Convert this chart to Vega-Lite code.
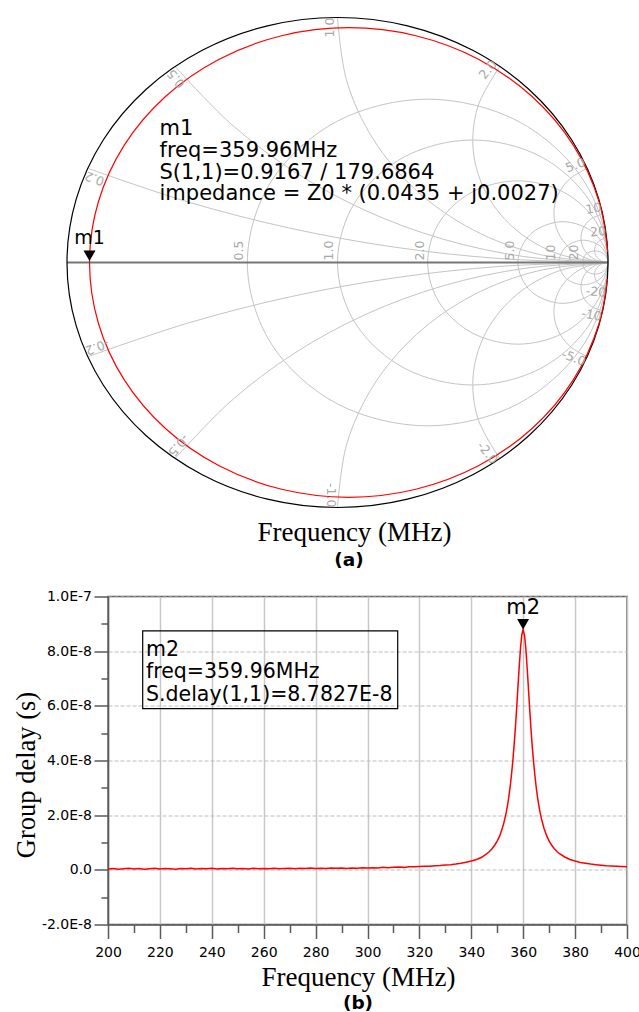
{
 "$schema": "https://vega.github.io/schema/vega-lite/v6.json",
 "background": "white",
 "padding": {"left": 12, "top": 14.5, "right": 0, "bottom": 0},
 "spacing": 19,
 "config": {"view": {"stroke": null}},
 "datasets": {
  "outer": [
   {"i":0,"gx":1,"gy":0},{"i":1,"gx":0.9659,"gy":0.2588},{"i":2,"gx":0.866,"gy":0.5},{"i":3,"gx":0.7071,"gy":0.7071},
   {"i":4,"gx":0.5,"gy":0.866},{"i":5,"gx":0.2588,"gy":0.9659},{"i":6,"gx":0,"gy":1},{"i":7,"gx":-0.2588,"gy":0.9659},
   {"i":8,"gx":-0.5,"gy":0.866},{"i":9,"gx":-0.7071,"gy":0.7071},{"i":10,"gx":-0.866,"gy":0.5},{"i":11,"gx":-0.9659,"gy":0.2588},
   {"i":12,"gx":-1,"gy":0},{"i":13,"gx":-0.9659,"gy":-0.2588},{"i":14,"gx":-0.866,"gy":-0.5},{"i":15,"gx":-0.7071,"gy":-0.7071},
   {"i":16,"gx":-0.5,"gy":-0.866},{"i":17,"gx":-0.2588,"gy":-0.9659},{"i":18,"gx":0,"gy":-1},{"i":19,"gx":0.2588,"gy":-0.9659},
   {"i":20,"gx":0.5,"gy":-0.866},{"i":21,"gx":0.7071,"gy":-0.7071},{"i":22,"gx":0.866,"gy":-0.5},{"i":23,"gx":0.9659,"gy":-0.2588}
  ],
  "rcircles": [
   {"r":"0.5","i":0,"gx":1,"gy":0},{"r":"0.5","i":1,"gx":0.9107,"gy":0.3333},{"r":"0.5","i":2,"gx":0.6667,"gy":0.5774},{"r":"0.5","i":3,"gx":0.3333,"gy":0.6667},
   {"r":"0.5","i":4,"gx":0,"gy":0.5774},{"r":"0.5","i":5,"gx":-0.244,"gy":0.3333},{"r":"0.5","i":6,"gx":-0.3333,"gy":0},{"r":"0.5","i":7,"gx":-0.244,"gy":-0.3333},
   {"r":"0.5","i":8,"gx":0,"gy":-0.5774},{"r":"0.5","i":9,"gx":0.3333,"gy":-0.6667},{"r":"0.5","i":10,"gx":0.6667,"gy":-0.5774},{"r":"0.5","i":11,"gx":0.9107,"gy":-0.3333},
   {"r":"1","i":0,"gx":1,"gy":0},{"r":"1","i":1,"gx":0.933,"gy":0.25},{"r":"1","i":2,"gx":0.75,"gy":0.433},{"r":"1","i":3,"gx":0.5,"gy":0.5},
   {"r":"1","i":4,"gx":0.25,"gy":0.433},{"r":"1","i":5,"gx":0.067,"gy":0.25},{"r":"1","i":6,"gx":0,"gy":0},{"r":"1","i":7,"gx":0.067,"gy":-0.25},
   {"r":"1","i":8,"gx":0.25,"gy":-0.433},{"r":"1","i":9,"gx":0.5,"gy":-0.5},{"r":"1","i":10,"gx":0.75,"gy":-0.433},{"r":"1","i":11,"gx":0.933,"gy":-0.25},
   {"r":"2","i":0,"gx":1,"gy":0},{"r":"2","i":1,"gx":0.9554,"gy":0.1667},{"r":"2","i":2,"gx":0.8333,"gy":0.2887},{"r":"2","i":3,"gx":0.6667,"gy":0.3333},
   {"r":"2","i":4,"gx":0.5,"gy":0.2887},{"r":"2","i":5,"gx":0.378,"gy":0.1667},{"r":"2","i":6,"gx":0.3333,"gy":0},{"r":"2","i":7,"gx":0.378,"gy":-0.1667},
   {"r":"2","i":8,"gx":0.5,"gy":-0.2887},{"r":"2","i":9,"gx":0.6667,"gy":-0.3333},{"r":"2","i":10,"gx":0.8333,"gy":-0.2887},{"r":"2","i":11,"gx":0.9554,"gy":-0.1667},
   {"r":"5","i":0,"gx":1,"gy":0},{"r":"5","i":1,"gx":0.9512,"gy":0.1179},{"r":"5","i":2,"gx":0.8333,"gy":0.1667},{"r":"5","i":3,"gx":0.7155,"gy":0.1179},
   {"r":"5","i":4,"gx":0.6667,"gy":0},{"r":"5","i":5,"gx":0.7155,"gy":-0.1179},{"r":"5","i":6,"gx":0.8333,"gy":-0.1667},{"r":"5","i":7,"gx":0.9512,"gy":-0.1179},
   {"r":"10","i":0,"gx":1,"gy":0},{"r":"10","i":1,"gx":0.9734,"gy":0.0643},{"r":"10","i":2,"gx":0.9091,"gy":0.0909},{"r":"10","i":3,"gx":0.8448,"gy":0.0643},
   {"r":"10","i":4,"gx":0.8182,"gy":0},{"r":"10","i":5,"gx":0.8448,"gy":-0.0643},{"r":"10","i":6,"gx":0.9091,"gy":-0.0909},{"r":"10","i":7,"gx":0.9734,"gy":-0.0643},
   {"r":"20","i":0,"gx":1,"gy":0},{"r":"20","i":1,"gx":0.9861,"gy":0.0337},{"r":"20","i":2,"gx":0.9524,"gy":0.0476},{"r":"20","i":3,"gx":0.9187,"gy":0.0337},
   {"r":"20","i":4,"gx":0.9048,"gy":0},{"r":"20","i":5,"gx":0.9187,"gy":-0.0337},{"r":"20","i":6,"gx":0.9524,"gy":-0.0476},{"r":"20","i":7,"gx":0.9861,"gy":-0.0337}
  ],
  "xarcs": [
   {"xv":0.2,"i":0,"gx":1,"gy":0},{"xv":0.2,"i":1,"gx":0.6056,"gy":0.0156},{"xv":0.2,"i":2,"gx":0.2137,"gy":0.0622},{"xv":0.2,"i":3,"gx":-0.1733,"gy":0.1396},{"xv":0.2,"i":4,"gx":-0.5531,"gy":0.2473},{"xv":0.2,"i":5,"gx":-0.9231,"gy":0.3846},
   {"xv":0.5,"i":0,"gx":1,"gy":0},{"xv":0.5,"i":1,"gx":0.6921,"gy":0.0238},{"xv":0.5,"i":2,"gx":0.3916,"gy":0.0948},{"xv":0.5,"i":3,"gx":0.1056,"gy":0.2111},{"xv":0.5,"i":4,"gx":-0.1591,"gy":0.3702},{"xv":0.5,"i":5,"gx":-0.3962,"gy":0.568},{"xv":0.5,"i":6,"gx":-0.6,"gy":0.8},
   {"xv":1,"i":0,"gx":1,"gy":0},{"xv":1,"i":1,"gx":0.7412,"gy":0.0341},{"xv":1,"i":2,"gx":0.5,"gy":0.134},{"xv":1,"i":3,"gx":0.2929,"gy":0.2929},{"xv":1,"i":4,"gx":0.134,"gy":0.5},{"xv":1,"i":5,"gx":0.0341,"gy":0.7412},{"xv":1,"i":6,"gx":0,"gy":1},
   {"xv":2,"i":0,"gx":1,"gy":0},{"xv":2,"i":1,"gx":0.8196,"gy":0.0337},{"xv":2,"i":2,"gx":0.6636,"gy":0.1301},{"xv":2,"i":3,"gx":0.5528,"gy":0.2764},{"xv":2,"i":4,"gx":0.5022,"gy":0.4528},{"xv":2,"i":5,"gx":0.5187,"gy":0.6355},{"xv":2,"i":6,"gx":0.6,"gy":0.8},
   {"xv":5,"i":0,"gx":1,"gy":0},{"xv":5,"i":1,"gx":0.9235,"gy":0.0152},{"xv":5,"i":2,"gx":0.8587,"gy":0.0585},{"xv":5,"i":3,"gx":0.8153,"gy":0.1233},{"xv":5,"i":4,"gx":0.8,"gy":0.1998},{"xv":5,"i":5,"gx":0.8151,"gy":0.2763},{"xv":5,"i":6,"gx":0.8583,"gy":0.3412},{"xv":5,"i":7,"gx":0.9231,"gy":0.3846},
   {"xv":10,"i":0,"gx":1,"gy":0},{"xv":10,"i":1,"gx":0.9529,"gy":0.0118},{"xv":10,"i":2,"gx":0.9169,"gy":0.0444},{"xv":10,"i":3,"gx":0.9005,"gy":0.09},{"xv":10,"i":4,"gx":0.9075,"gy":0.1381},{"xv":10,"i":5,"gx":0.9364,"gy":0.1771},{"xv":10,"i":6,"gx":0.9802,"gy":0.198},
   {"xv":20,"i":0,"gx":1,"gy":0},{"xv":20,"i":1,"gx":0.9757,"gy":0.0063},{"xv":20,"i":2,"gx":0.9576,"gy":0.0236},{"xv":20,"i":3,"gx":0.9501,"gy":0.0475},{"xv":20,"i":4,"gx":0.9551,"gy":0.0721},{"xv":20,"i":5,"gx":0.9715,"gy":0.0911},{"xv":20,"i":6,"gx":0.995,"gy":0.0998},
   {"xv":-0.2,"i":0,"gx":1,"gy":0},{"xv":-0.2,"i":1,"gx":0.6056,"gy":-0.0156},{"xv":-0.2,"i":2,"gx":0.2137,"gy":-0.0622},{"xv":-0.2,"i":3,"gx":-0.1733,"gy":-0.1396},{"xv":-0.2,"i":4,"gx":-0.5531,"gy":-0.2473},{"xv":-0.2,"i":5,"gx":-0.9231,"gy":-0.3846},
   {"xv":-0.5,"i":0,"gx":1,"gy":0},{"xv":-0.5,"i":1,"gx":0.6921,"gy":-0.0238},{"xv":-0.5,"i":2,"gx":0.3916,"gy":-0.0948},{"xv":-0.5,"i":3,"gx":0.1056,"gy":-0.2111},{"xv":-0.5,"i":4,"gx":-0.1591,"gy":-0.3702},{"xv":-0.5,"i":5,"gx":-0.3962,"gy":-0.568},{"xv":-0.5,"i":6,"gx":-0.6,"gy":-0.8},
   {"xv":-1,"i":0,"gx":1,"gy":0},{"xv":-1,"i":1,"gx":0.7412,"gy":-0.0341},{"xv":-1,"i":2,"gx":0.5,"gy":-0.134},{"xv":-1,"i":3,"gx":0.2929,"gy":-0.2929},{"xv":-1,"i":4,"gx":0.134,"gy":-0.5},{"xv":-1,"i":5,"gx":0.0341,"gy":-0.7412},{"xv":-1,"i":6,"gx":0,"gy":-1},
   {"xv":-2,"i":0,"gx":1,"gy":0},{"xv":-2,"i":1,"gx":0.8196,"gy":-0.0337},{"xv":-2,"i":2,"gx":0.6636,"gy":-0.1301},{"xv":-2,"i":3,"gx":0.5528,"gy":-0.2764},{"xv":-2,"i":4,"gx":0.5022,"gy":-0.4528},{"xv":-2,"i":5,"gx":0.5187,"gy":-0.6355},{"xv":-2,"i":6,"gx":0.6,"gy":-0.8},
   {"xv":-5,"i":0,"gx":1,"gy":0},{"xv":-5,"i":1,"gx":0.9235,"gy":-0.0152},{"xv":-5,"i":2,"gx":0.8587,"gy":-0.0585},{"xv":-5,"i":3,"gx":0.8153,"gy":-0.1233},{"xv":-5,"i":4,"gx":0.8,"gy":-0.1998},{"xv":-5,"i":5,"gx":0.8151,"gy":-0.2763},{"xv":-5,"i":6,"gx":0.8583,"gy":-0.3412},{"xv":-5,"i":7,"gx":0.9231,"gy":-0.3846},
   {"xv":-10,"i":0,"gx":1,"gy":0},{"xv":-10,"i":1,"gx":0.9529,"gy":-0.0118},{"xv":-10,"i":2,"gx":0.9169,"gy":-0.0444},{"xv":-10,"i":3,"gx":0.9005,"gy":-0.09},{"xv":-10,"i":4,"gx":0.9075,"gy":-0.1381},{"xv":-10,"i":5,"gx":0.9364,"gy":-0.1771},{"xv":-10,"i":6,"gx":0.9802,"gy":-0.198},
   {"xv":-20,"i":0,"gx":1,"gy":0},{"xv":-20,"i":1,"gx":0.9757,"gy":-0.0063},{"xv":-20,"i":2,"gx":0.9576,"gy":-0.0236},{"xv":-20,"i":3,"gx":0.9501,"gy":-0.0475},{"xv":-20,"i":4,"gx":0.9551,"gy":-0.0721},{"xv":-20,"i":5,"gx":0.9715,"gy":-0.0911},{"xv":-20,"i":6,"gx":0.995,"gy":-0.0998}
  ],
  "realaxis": [{"i":0,"gx":-1,"gy":0},{"i":1,"gx":1,"gy":0}],
  "s11": [
   {"i":0,"gx":0.9991,"gy":0.0418},{"i":1,"gx":0.9673,"gy":0.248},{"i":2,"gx":0.8716,"gy":0.4792},{"i":3,"gx":0.7193,"gy":0.6776},
   {"i":4,"gx":0.5209,"gy":0.8299},{"i":5,"gx":0.2897,"gy":0.9256},{"i":6,"gx":0.0417,"gy":0.9583},{"i":7,"gx":-0.2063,"gy":0.9256},
   {"i":8,"gx":-0.4375,"gy":0.8299},{"i":9,"gx":-0.6359,"gy":0.6776},{"i":10,"gx":-0.7882,"gy":0.4792},{"i":11,"gx":-0.8839,"gy":0.248},
   {"i":12,"gx":-0.9167,"gy":0.005},{"i":13,"gx":-0.8839,"gy":-0.248},{"i":14,"gx":-0.7882,"gy":-0.4792},{"i":15,"gx":-0.6359,"gy":-0.6776},
   {"i":16,"gx":-0.4375,"gy":-0.8299},{"i":17,"gx":-0.2063,"gy":-0.9256},{"i":18,"gx":0.0417,"gy":-0.9583},{"i":19,"gx":0.2897,"gy":-0.9256},
   {"i":20,"gx":0.5209,"gy":-0.8299},{"i":21,"gx":0.7193,"gy":-0.6776},{"i":22,"gx":0.8716,"gy":-0.4792},{"i":23,"gx":0.9673,"gy":-0.248},
   {"i":24,"gx":0.9977,"gy":-0.0669}
  ],
  "rlabels": [
   {"label":"0.5","gx":-0.3333,"gy":0},{"label":"1.0","gx":0,"gy":0},{"label":"2.0","gx":0.3333,"gy":0},
   {"label":"5.0","gx":0.6667,"gy":0},{"label":"10","gx":0.8182,"gy":0},{"label":"20","gx":0.9048,"gy":0}
  ],
  "xlabels": [
   {"label":"0.2","xv":0.2,"gx":-0.9231,"gy":0.3846},{"label":"0.5","xv":0.5,"gx":-0.6,"gy":0.8},{"label":"1.0","xv":1,"gx":0,"gy":1},
   {"label":"2.0","xv":2,"gx":0.6,"gy":0.8},{"label":"5.0","xv":5,"gx":0.9231,"gy":0.3846},{"label":"10","xv":10,"gx":0.9802,"gy":0.198},
   {"label":"20","xv":20,"gx":0.995,"gy":0.0998},
   {"label":"-0.2","xv":-0.2,"gx":-0.9231,"gy":-0.3846},{"label":"-0.5","xv":-0.5,"gx":-0.6,"gy":-0.8},{"label":"-1.0","xv":-1,"gx":0,"gy":-1},
   {"label":"-2.0","xv":-2,"gx":0.6,"gy":-0.8},{"label":"-5.0","xv":-5,"gx":0.9231,"gy":-0.3846},{"label":"-10","xv":-10,"gx":0.9802,"gy":-0.198},
   {"label":"-20","xv":-20,"gx":0.995,"gy":-0.0998}
  ],
  "m1": [{"name":"m1","gx":-0.9167,"gy":0.005}],
  "m1info": [{"gx":-0.658,"gy":0.5184,"lines":["m1","freq=359.96MHz","S(1,1)=0.9167 / 179.6864","impedance = Z0 * (0.0435 + j0.0027)"]}],
  "delay": [
   {"f":200,"tau":3e-10},{"f":202,"tau":5e-10},{"f":204,"tau":2e-10},{"f":206,"tau":4e-10},{"f":208,"tau":6e-10},
   {"f":210,"tau":3e-10},{"f":212,"tau":5e-10},{"f":214,"tau":2e-10},{"f":216,"tau":4e-10},{"f":218,"tau":6e-10},
   {"f":220,"tau":3e-10},{"f":222,"tau":5e-10},{"f":224,"tau":4e-10},{"f":226,"tau":2e-10},{"f":228,"tau":5e-10},
   {"f":230,"tau":4e-10},{"f":232,"tau":6e-10},{"f":234,"tau":3e-10},{"f":236,"tau":5e-10},{"f":238,"tau":4e-10},
   {"f":240,"tau":6e-10},{"f":242,"tau":3e-10},{"f":244,"tau":5e-10},{"f":246,"tau":4e-10},{"f":248,"tau":6e-10},
   {"f":250,"tau":4e-10},{"f":252,"tau":5e-10},{"f":254,"tau":3e-10},{"f":256,"tau":6e-10},{"f":258,"tau":4e-10},
   {"f":260,"tau":5e-10},{"f":262,"tau":4e-10},{"f":264,"tau":6e-10},{"f":266,"tau":4e-10},{"f":268,"tau":5e-10},
   {"f":270,"tau":6e-10},{"f":272,"tau":4e-10},{"f":274,"tau":6e-10},{"f":276,"tau":5e-10},{"f":278,"tau":7e-10},
   {"f":280,"tau":5e-10},{"f":282,"tau":6e-10},{"f":284,"tau":5e-10},{"f":286,"tau":7e-10},{"f":288,"tau":6e-10},
   {"f":290,"tau":7e-10},{"f":292,"tau":5e-10},{"f":294,"tau":7e-10},{"f":296,"tau":6e-10},{"f":298,"tau":8e-10},
   {"f":300,"tau":7e-10},{"f":302,"tau":8e-10},{"f":304,"tau":7e-10},{"f":306,"tau":9e-10},{"f":308,"tau":8e-10},
   {"f":310,"tau":9e-10},{"f":312,"tau":1.0e-9},{"f":314,"tau":9e-10},{"f":316,"tau":1.1e-9},{"f":318,"tau":1.1e-9},
   {"f":320,"tau":1.2e-9},{"f":322,"tau":1.3e-9},{"f":324,"tau":1.3e-9},{"f":326,"tau":1.5e-9},{"f":328,"tau":1.6e-9},
   {"f":330,"tau":1.8e-9},{"f":332,"tau":1.9e-9},{"f":334,"tau":2.1e-9},{"f":336,"tau":2.4e-9},{"f":338,"tau":2.8e-9},
   {"f":340,"tau":3.2e-9},{"f":342,"tau":3.8e-9},{"f":344,"tau":4.6e-9},{"f":346,"tau":5.9e-9},{"f":347,"tau":6.7e-9},
   {"f":348,"tau":7.7e-9},{"f":349,"tau":9.0e-9},{"f":350,"tau":1.06e-8},{"f":351,"tau":1.25e-8},{"f":352,"tau":1.54e-8},
   {"f":352.5,"tau":1.70e-8},{"f":353,"tau":1.90e-8},{"f":353.5,"tau":2.12e-8},{"f":354,"tau":2.39e-8},{"f":354.5,"tau":2.70e-8},
   {"f":355,"tau":3.06e-8},{"f":355.5,"tau":3.49e-8},{"f":356,"tau":3.99e-8},{"f":356.5,"tau":4.57e-8},{"f":357,"tau":5.21e-8},
   {"f":357.5,"tau":5.95e-8},{"f":358,"tau":6.73e-8},{"f":358.5,"tau":7.49e-8},{"f":359,"tau":8.16e-8},{"f":359.5,"tau":8.62e-8},
   {"f":359.96,"tau":8.7827e-8},{"f":360.5,"tau":8.59e-8},{"f":361,"tau":8.11e-8},{"f":361.5,"tau":7.43e-8},{"f":362,"tau":6.66e-8},
   {"f":362.5,"tau":5.88e-8},{"f":363,"tau":5.15e-8},{"f":363.5,"tau":4.49e-8},{"f":364,"tau":3.95e-8},{"f":364.5,"tau":3.46e-8},
   {"f":365,"tau":3.03e-8},{"f":365.5,"tau":2.67e-8},{"f":366,"tau":2.37e-8},{"f":366.5,"tau":2.10e-8},{"f":367,"tau":1.88e-8},
   {"f":368,"tau":1.52e-8},{"f":369,"tau":1.26e-8},{"f":370,"tau":1.05e-8},{"f":371,"tau":9.0e-9},{"f":372,"tau":7.7e-9},
   {"f":373,"tau":6.7e-9},{"f":374,"tau":5.9e-9},{"f":376,"tau":4.7e-9},{"f":378,"tau":3.8e-9},{"f":380,"tau":3.2e-9},
   {"f":382,"tau":2.7e-9},{"f":384,"tau":2.4e-9},{"f":386,"tau":2.1e-9},{"f":388,"tau":1.9e-9},{"f":390,"tau":1.7e-9},
   {"f":392,"tau":1.5e-9},{"f":394,"tau":1.4e-9},{"f":396,"tau":1.3e-9},{"f":398,"tau":1.2e-9},{"f":400,"tau":1.1e-9}
  ],
  "m2": [{"name":"m2","f":359.96,"tau":8.7827e-8}],
  "m2box": [{"f":213.37,"f2":311.64,"tau":8.746e-8,"tau2":5.895e-8}],
  "m2info": [{"f":214.64,"tau":7.832e-8,"lines":["m2","freq=359.96MHz","S.delay(1,1)=8.7827E-8"]}]
 },
 "vconcat": [
  {
   "width": 500, "height": 490,
   "view": {"stroke": null},
   "title": {"text": "(a)", "orient": "bottom", "anchor": "middle", "frame": "group", "dx": -9, "offset": 5, "font": "DejaVu Sans", "fontSize": 18.5, "fontWeight": "bold", "color": "black", "baseline": "top"},
   "encoding": {
    "x": {"field": "gx", "type": "quantitative", "scale": {"domain": [-0.8484, 1], "nice": false, "zero": false},
      "axis": {"title": "Frequency (MHz)", "labels": false, "ticks": false, "domain": false, "grid": false,
        "titleFont": "Liberation Serif", "titleFontSize": 27, "titleFontWeight": "normal", "titleColor": "black",
        "titleX": 246, "titleY": 33, "titleBaseline": "alphabetic"}},
    "y": {"field": "gy", "type": "quantitative", "scale": {"domain": [-1, 1], "nice": false, "zero": false}, "axis": null}
   },
   "layer": [
    {"data": {"name": "rcircles"}, "mark": {"type": "line", "interpolate": "cardinal-closed", "tension": 0, "color": "#c4c4c4", "strokeWidth": 1},
     "encoding": {"detail": {"field": "r", "type": "nominal"}, "order": {"field": "i", "type": "quantitative"}}},
    {"data": {"name": "xarcs"}, "mark": {"type": "line", "interpolate": "catmull-rom", "color": "#c4c4c4", "strokeWidth": 1},
     "encoding": {"detail": {"field": "xv", "type": "nominal"}, "order": {"field": "i", "type": "quantitative"}}},
    {"data": {"name": "realaxis"}, "mark": {"type": "line", "color": "#767676", "strokeWidth": 2},
     "encoding": {"order": {"field": "i", "type": "quantitative"}}},
    {"data": {"name": "outer"}, "mark": {"type": "line", "interpolate": "cardinal-closed", "tension": 0, "color": "black", "strokeWidth": 1.2},
     "encoding": {"order": {"field": "i", "type": "quantitative"}}},
    {"data": {"name": "s11"}, "mark": {"type": "line", "interpolate": "catmull-rom", "color": "#ff0000", "strokeWidth": 1.2},
     "encoding": {"order": {"field": "i", "type": "quantitative"}}},
    {"data": {"name": "rlabels"}, "mark": {"type": "text", "angle": 270, "align": "left", "baseline": "bottom", "dx": 2, "dy": -1, "font": "DejaVu Sans", "fontSize": 12.5, "color": "#a8a8a8"},
     "encoding": {"text": {"field": "label", "type": "nominal"}}},
    {"data": {"name": "xlabels"}, "transform": [{"filter": "datum.xv > 0"}],
     "mark": {"type": "text", "align": "right", "baseline": "bottom", "font": "DejaVu Sans", "fontSize": 12.5, "color": "#a8a8a8"},
     "encoding": {"text": {"field": "label", "type": "nominal"},
       "angle": {"condition": [
         {"test": "datum.xv == 0.2", "value": 200.7}, {"test": "datum.xv == 0.5", "value": 230.4},
         {"test": "datum.xv == 1", "value": 270}, {"test": "datum.xv == 2", "value": 309.6},
         {"test": "datum.xv == 5", "value": 339.3}, {"test": "datum.xv == 10", "value": 349.6}], "value": 354.8}}},
    {"data": {"name": "xlabels"}, "transform": [{"filter": "datum.xv < 0"}],
     "mark": {"type": "text", "align": "right", "baseline": "top", "font": "DejaVu Sans", "fontSize": 12.5, "color": "#a8a8a8"},
     "encoding": {"text": {"field": "label", "type": "nominal"},
       "angle": {"condition": [
         {"test": "datum.xv == -0.2", "value": 159.3}, {"test": "datum.xv == -0.5", "value": 129.6},
         {"test": "datum.xv == -1", "value": 90}, {"test": "datum.xv == -2", "value": 50.4},
         {"test": "datum.xv == -5", "value": 20.7}, {"test": "datum.xv == -10", "value": 10.4}], "value": 5.2}}},
    {"data": {"name": "m1"}, "mark": {"type": "point", "shape": "triangle-down", "filled": true, "color": "black", "opacity": 1, "size": 144, "yOffset": -5.5}},
    {"data": {"name": "m1"}, "mark": {"type": "text", "dy": -17, "align": "center", "baseline": "alphabetic", "font": "DejaVu Sans", "fontSize": 19, "color": "black"},
     "encoding": {"text": {"field": "name", "type": "nominal"}}},
    {"data": {"name": "m1info"}, "mark": {"type": "text", "align": "left", "baseline": "alphabetic", "font": "DejaVu Sans", "fontSize": 21, "lineHeight": 21.67, "color": "black"},
     "encoding": {"text": {"field": "lines", "type": "nominal"}}}
   ]
  },
  {
   "width": 519, "height": 328,
   "view": {"stroke": "#5a5a5a", "strokeWidth": 1.5},
   "title": {"text": "(b)", "orient": "bottom", "anchor": "middle", "frame": "group", "dx": -9.5, "offset": 3, "font": "DejaVu Sans", "fontSize": 18.5, "fontWeight": "bold", "color": "black", "baseline": "top"},
   "encoding": {
    "x": {"field": "f", "type": "quantitative", "scale": {"domain": [200, 400], "nice": false, "zero": false},
      "axis": {"title": "Frequency (MHz)",
        "values": [200,210,220,230,240,250,260,270,280,290,300,310,320,330,340,350,360,370,380,390,400],
        "labelExpr": "datum.value % 20 == 0 ? datum.label : ''",
        "labelFlush": false, "labelOverlap": false, "labelFont": "DejaVu Sans", "labelFontSize": 14, "labelColor": "black", "labelPadding": 7,
        "tickSize": {"condition": {"test": "datum.value % 20 == 0", "value": 14}, "value": 8},
        "tickColor": "#5a5a5a", "tickWidth": 1.5, "domainColor": "#5a5a5a", "domainWidth": 1.5,
        "grid": true, "gridColor": "#c8c8c8", "gridWidth": 1.5,
        "gridOpacity": {"condition": {"test": "datum.value % 20 == 0", "value": 1}, "value": 0},
        "titleFont": "Liberation Serif", "titleFontSize": 27, "titleFontWeight": "normal", "titleColor": "black",
        "titleX": 250, "titleY": 61, "titleBaseline": "alphabetic"}},
    "y": {"field": "tau", "type": "quantitative", "scale": {"domain": [-2e-8, 1e-7], "nice": false, "zero": false},
      "axis": {"title": "Group delay (s)",
        "values": [-2e-8,-1e-8,0,1e-8,2e-8,3e-8,4e-8,5e-8,6e-8,7e-8,8e-8,9e-8,1e-7],
        "labelExpr": "round(datum.value*1e8) == 10 ? '1.0E-7' : (round(datum.value*1e8) == 0 ? '0.0' : (abs(round(datum.value*1e8)) % 2 == 0 ? ((round(datum.value*1e8) < 0 ? '-' : '') + abs(round(datum.value*1e8)) + '.0E-8') : ''))",
        "labelFlush": false, "labelOverlap": false, "labelFont": "DejaVu Sans", "labelFontSize": 14, "labelColor": "black", "labelPadding": 2.5,
        "tickSize": {"condition": {"test": "abs(round(datum.value*1e8)) % 2 == 0", "value": 14}, "value": 7},
        "tickColor": "#5a5a5a", "tickWidth": 1.5, "domainColor": "#5a5a5a", "domainWidth": 1.5,
        "grid": true, "gridColor": "#bdbdbd", "gridWidth": 1, "gridDash": [4, 2],
        "gridOpacity": {"condition": {"test": "abs(round(datum.value*1e8)) % 2 == 0", "value": 1}, "value": 0},
        "titleFont": "Liberation Serif", "titleFontSize": 26.5, "titleFontWeight": "normal", "titleColor": "black",
        "titleX": -74, "titleY": 178, "titleBaseline": "alphabetic", "titleAngle": 270}}
   },
   "layer": [
    {"data": {"name": "delay"}, "mark": {"type": "line", "color": "#ff0000", "strokeWidth": 1.5}},
    {"data": {"name": "m2box"}, "mark": {"type": "rect", "fill": null, "fillOpacity": 0, "stroke": "black", "strokeWidth": 1.2},
     "encoding": {"x2": {"field": "f2"}, "y2": {"field": "tau2"}}},
    {"data": {"name": "m2info"}, "mark": {"type": "text", "align": "left", "baseline": "alphabetic", "font": "DejaVu Sans", "fontSize": 20.5, "lineHeight": 22.5, "color": "black"},
     "encoding": {"text": {"field": "lines", "type": "nominal"}}},
    {"data": {"name": "m2"}, "mark": {"type": "point", "shape": "triangle-down", "filled": true, "color": "black", "opacity": 1, "size": 144, "yOffset": -5.5}},
    {"data": {"name": "m2"}, "mark": {"type": "text", "dy": -16, "align": "center", "baseline": "alphabetic", "font": "DejaVu Sans", "fontSize": 21, "color": "black"},
     "encoding": {"text": {"field": "name", "type": "nominal"}}}
   ]
  }
 ]
}
